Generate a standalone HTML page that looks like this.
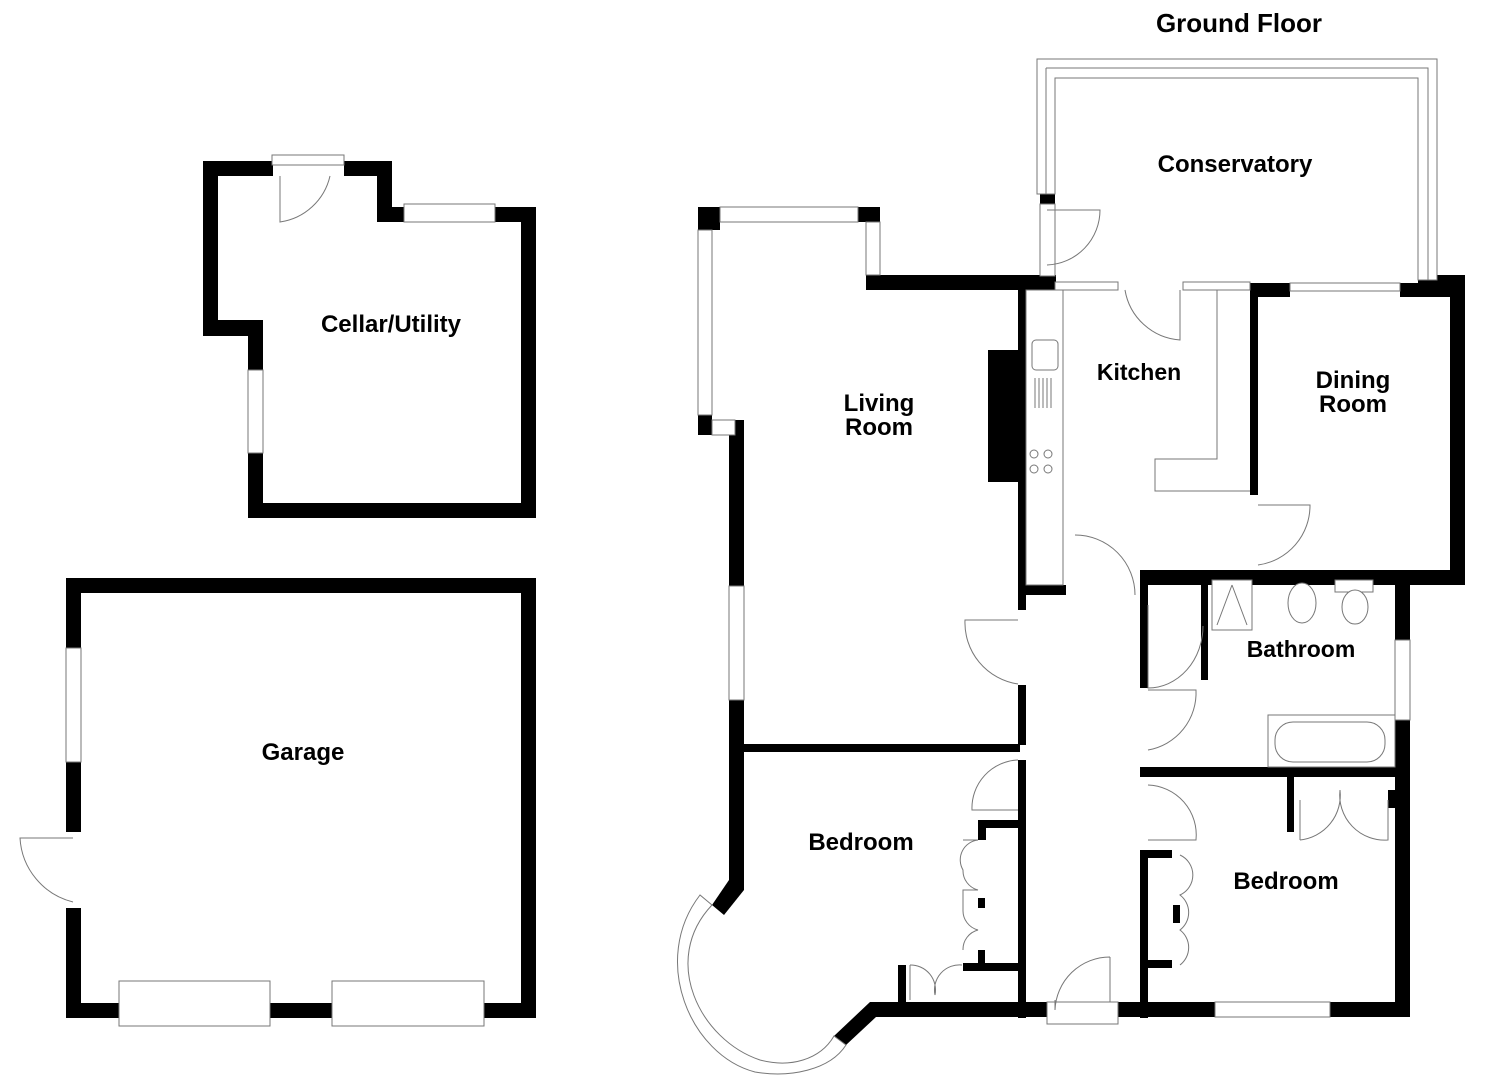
<!DOCTYPE html>
<html><head><meta charset="utf-8"><style>
html,body{margin:0;padding:0;background:#fff;}
svg{display:block;}
text{font-family:"Liberation Sans",Arial,sans-serif;font-weight:bold;fill:#000;}
</style></head><body>
<svg width="1485" height="1080" viewBox="0 0 1485 1080" xmlns="http://www.w3.org/2000/svg">
<g fill="#000">
<rect x="203" y="161" width="70" height="15"/>
<rect x="344" y="161" width="48" height="15"/>
<rect x="377" y="161" width="15" height="61"/>
<rect x="377" y="207" width="28" height="15"/>
<rect x="493" y="207" width="43" height="15"/>
<rect x="521" y="207" width="15" height="311"/>
<rect x="248" y="503" width="288" height="15"/>
<rect x="248" y="320" width="15" height="50"/>
<rect x="248" y="453" width="15" height="65"/>
<rect x="203" y="320" width="60" height="16"/>
<rect x="203" y="161" width="15" height="175"/>
<rect x="66" y="578" width="470" height="15"/>
<rect x="521" y="578" width="15" height="440"/>
<rect x="66" y="1003" width="470" height="15"/>
<rect x="66" y="578" width="15" height="70"/>
<rect x="66" y="762" width="15" height="70"/>
<rect x="66" y="908" width="15" height="110"/>
<rect x="698" y="207" width="22" height="23"/>
<rect x="858" y="207" width="22" height="15"/>
<rect x="866" y="275" width="190" height="15"/>
<rect x="698" y="415" width="14" height="20"/>
<rect x="729" y="420" width="15" height="166"/>
<rect x="729" y="700" width="15" height="180"/>
<polygon points="729,880 744,880 744,890 724,915 712,905"/>
<rect x="744" y="744" width="276" height="8"/>
<rect x="1018" y="290" width="8" height="320"/>
<rect x="1018" y="685" width="8" height="60"/>
<rect x="988" y="350" width="30" height="132"/>
<rect x="1040" y="194" width="15" height="10"/>
<rect x="1250" y="283" width="40" height="14"/>
<rect x="1400" y="283" width="65" height="14"/>
<rect x="1418" y="275" width="47" height="10"/>
<rect x="1450" y="275" width="15" height="310"/>
<rect x="1250" y="290" width="8" height="205"/>
<rect x="1026" y="585" width="40" height="10"/>
<rect x="1140" y="570" width="325" height="15"/>
<rect x="1140" y="570" width="8" height="118"/>
<rect x="1201" y="580" width="7" height="100"/>
<rect x="1140" y="767" width="270" height="10"/>
<rect x="1395" y="570" width="15" height="70"/>
<rect x="1395" y="720" width="15" height="297"/>
<rect x="1018" y="760" width="8" height="258"/>
<rect x="1140" y="850" width="8" height="168"/>
<rect x="1148" y="850" width="24" height="8"/>
<rect x="1148" y="960" width="24" height="8"/>
<rect x="1173" y="905" width="7" height="18"/>
<rect x="1287" y="777" width="7" height="55"/>
<rect x="1388" y="790" width="7" height="18"/>
<rect x="1118" y="1002" width="97" height="15"/>
<rect x="1330" y="1002" width="80" height="15"/>
<rect x="870" y="1002" width="177" height="15"/>
<rect x="978" y="820" width="40" height="8"/>
<rect x="978" y="820" width="8" height="20"/>
<rect x="963" y="963" width="55" height="8"/>
<rect x="978" y="950" width="7" height="18"/>
<rect x="978" y="898" width="7" height="10"/>
<rect x="898" y="965" width="8" height="40"/>
<polygon points="870,1002 880,1002 880,1017 876,1017 846,1045 834,1036"/>
</g>
<g fill="#fff" stroke="#777" stroke-width="1">
<rect x="272" y="155" width="72" height="10"/>
<rect x="404" y="204" width="91" height="18"/>
<rect x="248" y="370" width="15" height="83"/>
<rect x="66" y="648" width="15" height="114"/>
<rect x="119" y="981" width="151" height="45"/>
<rect x="332" y="981" width="152" height="45"/>
<rect x="720" y="207" width="138" height="15"/>
<rect x="866" y="222" width="14" height="53"/>
<rect x="698" y="230" width="14" height="185"/>
<rect x="712" y="420" width="23" height="15"/>
<rect x="729" y="586" width="15" height="114"/>
<rect x="1055" y="282" width="63" height="8"/>
<rect x="1183" y="282" width="67" height="8"/>
<rect x="1290" y="283" width="110" height="8"/>
<rect x="1395" y="640" width="15" height="80"/>
<rect x="1215" y="1002" width="115" height="15"/>
<rect x="1047" y="1002" width="71" height="22"/>
<path d="M1037 59 H1437 V280 H1418 V78 H1055 V194 H1037 Z" fill="#fff"/>
<path d="M1046 68 H1428 V280 M1046 68 V194" fill="none"/>
<rect x="1040" y="204" width="15" height="72"/>
<rect x="1026" y="290" width="37" height="295" fill="none"/>
<rect x="1032" y="340" width="26" height="30" rx="4"/>
<path d="M1035 378v30M1039 378v30M1043 378v30M1047 378v30M1051 378v30" fill="none"/>
<circle cx="1034" cy="454" r="4"/><circle cx="1048" cy="454" r="4"/>
<circle cx="1034" cy="469" r="4"/><circle cx="1048" cy="469" r="4"/>
<path d="M1217 290 V459 H1155 V491 H1250" fill="none"/>
<rect x="1212" y="580" width="40" height="50"/>
<path d="M1232 585 L1217 625 M1232 585 L1247 625" fill="none"/>
<ellipse cx="1302" cy="603" rx="14" ry="20"/>
<rect x="1335" y="580" width="38" height="12"/>
<ellipse cx="1355" cy="607" rx="13" ry="17"/>
<rect x="1268" y="715" width="127" height="52"/>
<rect x="1275" y="722" width="110" height="40" rx="18"/>
<path d="M712 905 C660 960 700 1040 760 1060 C790 1068 820 1060 834 1036 L846 1045 C830 1070 790 1078 755 1072 C690 1055 650 960 700 895 Z"/>
</g>
<g fill="none" stroke="#777" stroke-width="1">
<path d="M280 176 V222 A60 60 0 0 0 330 176"/>
<path d="M73 838 H20 A70 70 0 0 0 73 902"/>
<path d="M1047 210 H1100 A55 55 0 0 1 1047 265"/>
<path d="M1125 290 A60 60 0 0 0 1180 340 V290"/>
<path d="M1258 505 H1310 A60 60 0 0 1 1258 565"/>
<path d="M1075 535 A60 60 0 0 1 1135 595"/>
<path d="M1018 620 H965 A62 62 0 0 0 1018 684"/>
<path d="M1148 605 V688 A55 62 0 0 0 1203 626"/>
<path d="M1148 690 H1196 A58 58 0 0 1 1148 750"/>
<path d="M1148 785 A50 50 0 0 1 1196 840 H1148"/>
<path d="M1018 760 A48 48 0 0 0 972 810 H1018"/>
<path d="M1055 1000 V1010 M1110 957 A55 55 0 0 0 1055 1010 V1000 M1110 957 V1002"/>
<path d="M963 840 H978 A20 20 0 0 0 963 870 A20 20 0 0 0 978 890 H963 V910 A20 20 0 0 0 978 930 A20 20 0 0 0 963 950"/>
<path d="M1180 855 A22 22 0 0 1 1180 895 A22 22 0 0 1 1180 930 A22 22 0 0 1 1180 965"/>
<path d="M1300 840 V800 M1300 840 A45 45 0 0 0 1340 790 A45 45 0 0 0 1388 840 V800"/>
<path d="M910 965 V1000 M910 965 A25 25 0 0 1 935 995 M962 965 A25 25 0 0 0 935 995"/>
</g>
<text x="1239" y="32" font-size="26" text-anchor="middle">Ground Floor</text>
<text x="1235" y="172" font-size="24" text-anchor="middle">Conservatory</text>
<text x="391" y="332" font-size="24" text-anchor="middle">Cellar/Utility</text>
<text x="879" y="411" font-size="24" text-anchor="middle">Living</text>
<text x="879" y="435" font-size="24" text-anchor="middle">Room</text>
<text x="1139" y="380" font-size="23" text-anchor="middle">Kitchen</text>
<text x="1353" y="388" font-size="24" text-anchor="middle">Dining</text>
<text x="1353" y="412" font-size="24" text-anchor="middle">Room</text>
<text x="1301" y="657" font-size="23" text-anchor="middle">Bathroom</text>
<text x="303" y="760" font-size="24" text-anchor="middle">Garage</text>
<text x="861" y="850" font-size="24" text-anchor="middle">Bedroom</text>
<text x="1286" y="889" font-size="24" text-anchor="middle">Bedroom</text>
</svg>
</body></html>
